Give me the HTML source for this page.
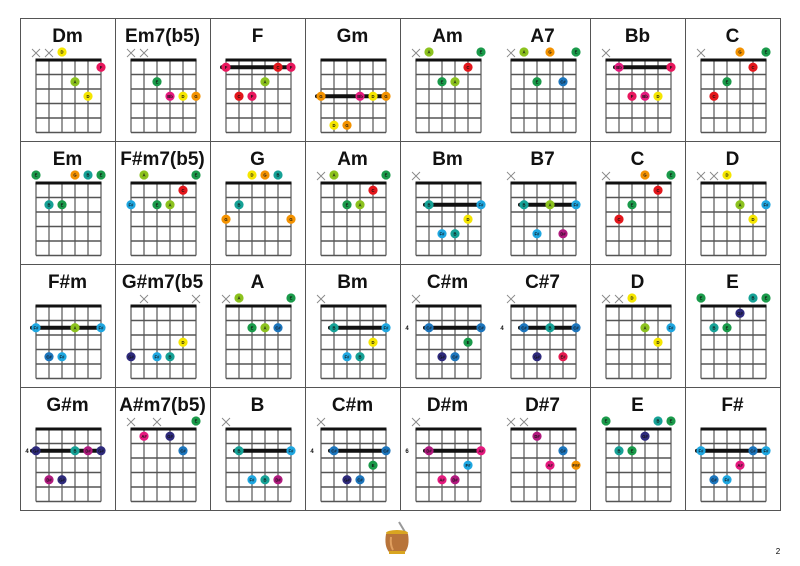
<!DOCTYPE html>
<html><head><meta charset="utf-8"><style>
html,body{margin:0;padding:0;background:#fff;}
svg{display:block;font-family:"Liberation Sans",sans-serif;}
</style></head><body>
<svg id="s" width="800" height="566" viewBox="0 0 800 566" xmlns="http://www.w3.org/2000/svg">
<rect width="800" height="566" fill="#fff"/>
<g stroke="#555" stroke-width="1" fill="none">
<rect x="20.5" y="18.5" width="760" height="492"/>
<line x1="20" y1="141.5" x2="780" y2="141.5"/>
<line x1="20" y1="264.5" x2="780" y2="264.5"/>
<line x1="20" y1="387.5" x2="780" y2="387.5"/>
<line x1="115.5" y1="18" x2="115.5" y2="510"/>
<line x1="210.5" y1="18" x2="210.5" y2="510"/>
<line x1="305.5" y1="18" x2="305.5" y2="510"/>
<line x1="400.5" y1="18" x2="400.5" y2="510"/>
<line x1="590.5" y1="18" x2="590.5" y2="510"/>
<line x1="685.5" y1="18" x2="685.5" y2="510"/>
</g>
<g id="cells"></g>
<g>
<line x1="399" y1="522" x2="405" y2="532" stroke="#999" stroke-width="2"/>
<ellipse cx="397" cy="533" rx="11" ry="3" fill="#d9a520"/>
<path d="M386 534 Q384 546 389 552 L405 552 Q410 546 408 534 Z" fill="#b8743a"/>
<path d="M391 537 Q390 545 393 550" stroke="#e0a060" stroke-width="2" fill="none"/>
<rect x="389" y="551" width="16" height="3" fill="#d9a520"/>
</g>
<text x="778" y="554" font-size="8" text-anchor="middle" fill="#000">2</text>
</svg>
<script>
var C={F:"#e8175d",C:"#e3161b",A:"#8cc21e",E:"#1a9a4a",D:"#f5e600",G:"#f39200",Bb:"#e5197e","A#":"#e5197e",B:"#16a196","F#":"#1ea7e1","C#":"#1c75bc","G#":"#2e2a7c","D#":"#b0197e","E#":"#e5194f","F##":"#f39200"};
var Dm={n:"Dm",m:['x','x','D'],d:[[3,2,'A'],[4,3,'D'],[5,1,'F']]};
var Am={n:"Am",m:['x','A',0,0,0,'E'],d:[[2,2,'E'],[3,2,'A'],[4,1,'C']]};
var Cc={n:"C",m:['x',0,0,'G',0,'E'],d:[[1,3,'C'],[2,2,'E'],[4,1,'C']]};
var Bm={n:"Bm",m:['x'],b:[2,1,5],d:[[1,2,'B'],[5,2,'F#'],[4,3,'D'],[2,4,'F#'],[3,4,'B']]};
var Dd={n:"D",m:['x','x','D'],d:[[3,2,'A'],[5,2,'F#'],[4,3,'D']]};
var Ee={n:"E",m:['E',0,0,0,'B','E'],d:[[1,2,'B'],[2,2,'E'],[3,1,'G#']]};
var Csm={n:"C#m",m:['x'],base:4,b:[2,1,5],d:[[1,2,'C#'],[5,2,'C#'],[4,3,'E'],[2,4,'G#'],[3,4,'C#']]};
var rows=[
[Dm,{n:"Em7(b5)",m:['x','x'],d:[[2,2,'E'],[3,3,'Bb'],[4,3,'D'],[5,3,'G']]},
{n:"F",b:[1,0,5],d:[[0,1,'F'],[4,1,'C'],[5,1,'F'],[3,2,'A'],[1,3,'C'],[2,3,'F']]},
{n:"Gm",b:[3,0,5],d:[[0,3,'G'],[3,3,'Bb'],[4,3,'D'],[5,3,'G'],[1,5,'D'],[2,5,'G']]},
Am,{n:"A7",m:['x','A',0,'G',0,'E'],d:[[2,2,'E'],[4,2,'C#']]},
{n:"Bb",m:['x'],b:[1,1,5],d:[[1,1,'Bb'],[5,1,'F'],[2,3,'F'],[3,3,'Bb'],[4,3,'D']]},Cc],
[{n:"Em",m:['E',0,0,'G','B','E'],d:[[1,2,'B'],[2,2,'E']]},
{n:"F#m7(b5)",m:[0,'A',0,0,0,'E'],d:[[0,2,'F#'],[2,2,'E'],[3,2,'A'],[4,1,'C']]},
{n:"G",m:[0,0,'D','G','B',0],d:[[0,3,'G'],[1,2,'B'],[5,3,'G']]},
Am,Bm,{n:"B7",m:['x'],b:[2,1,5],d:[[1,2,'B'],[3,2,'A'],[5,2,'F#'],[2,4,'F#'],[4,4,'D#']]},Cc,Dd],
[{n:"F#m",b:[2,0,5],d:[[0,2,'F#'],[3,2,'A'],[5,2,'F#'],[1,4,'C#'],[2,4,'F#']]},
{n:"G#m7(b5",m:[0,'x',0,0,0,'x'],d:[[0,4,'G#'],[2,4,'F#'],[3,4,'B'],[4,3,'D']]},
{n:"A",m:['x','A',0,0,0,'E'],d:[[2,2,'E'],[3,2,'A'],[4,2,'C#']]},
Bm,Csm,{n:"C#7",m:['x'],base:4,b:[2,1,5],d:[[1,2,'C#'],[3,2,'B'],[5,2,'C#'],[2,4,'G#'],[4,4,'E#']]},Dd,Ee],
[{n:"G#m",base:4,b:[2,0,5],d:[[0,2,'G#'],[3,2,'B'],[4,2,'D#'],[5,2,'G#'],[1,4,'D#'],[2,4,'G#']]},
{n:"A#m7(b5)",m:['x',0,'x',0,0,'E'],d:[[1,1,'A#'],[3,1,'G#'],[4,2,'C#']]},
{n:"B",m:['x'],b:[2,1,5],d:[[1,2,'B'],[5,2,'F#'],[2,4,'F#'],[3,4,'B'],[4,4,'D#']]},
Csm,{n:"D#m",m:['x'],base:6,b:[2,1,5],d:[[1,2,'D#'],[5,2,'A#'],[4,3,'F#'],[2,4,'A#'],[3,4,'D#']]},
{n:"D#7",m:['x','x'],d:[[2,1,'D#'],[4,2,'C#'],[3,3,'A#'],[5,3,'F##']]},Ee,
{n:"F#",b:[2,0,5],d:[[0,2,'F#'],[4,2,'C#'],[5,2,'F#'],[3,3,'A#'],[1,4,'C#'],[2,4,'F#']]}]];
var h="";
function dot(x,y,n){return '<circle cx="'+x+'" cy="'+y+'" r="4.6" fill="'+C[n]+'"/><text x="'+x+'" y="'+(y+1.5)+'" font-size="4.2" font-weight="bold" text-anchor="middle" fill="#111">'+n+'</text>';}
rows.forEach(function(row,r){row.forEach(function(ch,i){
 var x0=20+95*i,y0=18+123*r,gx=x0+16,ny=y0+42;
 h+='<text x="'+(x0+47.5)+'" y="'+(y0+24)+'" font-size="19" font-weight="bold" text-anchor="middle" fill="#111">'+ch.n+'</text>';
 for(var f=1;f<=5;f++)h+='<line x1="'+gx+'" x2="'+(gx+65)+'" y1="'+(ny+14.5*f)+'" y2="'+(ny+14.5*f)+'" stroke="#555" stroke-width="1.4"/>';
 for(var k=0;k<6;k++)h+='<line x1="'+(gx+13*k)+'" x2="'+(gx+13*k)+'" y1="'+ny+'" y2="'+(ny+72.5)+'" stroke="#555" stroke-width="1.2"/>';
 h+='<line x1="'+(gx-0.5)+'" x2="'+(gx+65.5)+'" y1="'+ny+'" y2="'+ny+'" stroke="#111" stroke-width="3"/>';
 (ch.m||[]).forEach(function(v,k){var x=gx+13*k;
  if(v==='x')h+='<path d="M'+(x-4)+' '+(ny-11)+'l8 8M'+(x+4)+' '+(ny-11)+'l-8 8" stroke="#888" stroke-width="0.9"/>';
  else if(v)h+=dot(x,ny-8,v);});
 if(ch.b){var by=ny+14.5*(ch.b[0]-0.5);h+='<line x1="'+(gx+13*ch.b[1]-4)+'" x2="'+(gx+13*ch.b[2])+'" y1="'+by+'" y2="'+by+'" stroke="#111" stroke-width="4" stroke-linecap="round"/>';
  if(ch.base)h+='<text x="'+(gx-9)+'" y="'+(by+2)+'" font-size="6" font-weight="bold" text-anchor="middle" fill="#111">'+ch.base+'</text>';}
 ch.d.forEach(function(d){h+=dot(gx+13*d[0],ny+14.5*(d[1]-0.5),d[2]);});
});});
document.getElementById("cells").innerHTML=h;
</script>
</body></html>
